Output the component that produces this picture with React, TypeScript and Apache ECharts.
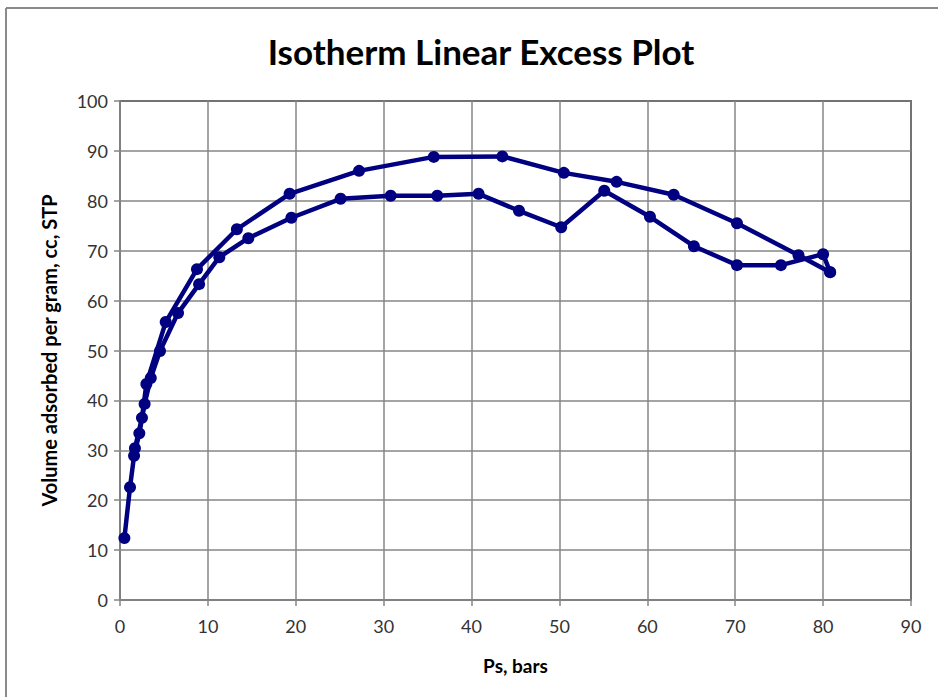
import React, { useEffect, useRef } from "react";
import * as echarts from "echarts";

const titleText = "Isotherm Linear Excess Plot";
const xName = "Ps, bars";
const yName = "Volume adsorbed per gram, cc, STP";

const adsX = [0.5, 1.14, 1.6, 2.2, 2.8, 3.5, 4.55, 6.6, 9.0, 11.3, 14.6, 19.5, 25.1, 30.8, 36.1, 40.8, 45.4, 50.2, 55.1, 60.3, 65.3, 70.2, 75.2, 80.0, 80.8];
const adsY = [12.4, 22.6, 28.9, 33.4, 39.3, 44.5, 49.9, 57.5, 63.3, 68.7, 72.5, 76.6, 80.4, 81.0, 81.0, 81.4, 78.0, 74.7, 82.0, 76.8, 70.9, 67.1, 67.1, 69.3, 65.7];
const desX = [80.8, 77.2, 70.2, 63.0, 56.5, 50.5, 43.5, 35.7, 27.2, 19.3, 13.3, 8.76, 5.2, 3.0, 2.5, 1.7];
const desY = [65.7, 69.1, 75.5, 81.2, 83.8, 85.6, 88.9, 88.8, 86.0, 81.4, 74.3, 66.3, 55.7, 43.3, 36.5, 30.4];

const FONT = "Lato, 'Open Sans', sans-serif";
const LINE = "#000080";
const GRID = "#868686";

export default function App() {
  const ref = useRef<HTMLDivElement>(null);
  useEffect(() => {
    if (!ref.current) return;
    const chart = echarts.init(ref.current, null, { renderer: "svg" });
    const ads = adsX.map((x, i) => [x, adsY[i]]);
    const des = desX.map((x, i) => [x, desY[i]]);
    const seriesStyle = {
      type: "line" as const,
      symbol: "circle",
      symbolSize: 12,
      lineStyle: { color: LINE, width: 4.5 },
      itemStyle: { color: LINE },
      z: 5,
    };
    chart.setOption({
      animation: false,
      backgroundColor: "#fff",
      title: {
        text: titleText,
        left: 476,
        top: 28,
        textAlign: "center",
        textStyle: { fontFamily: FONT, fontSize: 35, fontWeight: "bold", color: "#000" },
      },
      graphic: [
        { type: "line", shape: { x1: 6, y1: 8, x2: 6, y2: 697 }, style: { stroke: "#8a8a8a", lineWidth: 2 } },
        { type: "line", shape: { x1: 6, y1: 8, x2: 938, y2: 8 }, style: { stroke: "#8a8a8a", lineWidth: 2 } },
      ],
      grid: {
        left: 120,
        top: 101,
        right: 27,
        bottom: 97,
        show: true,
        borderColor: "#000",
        borderWidth: 1.5,
        backgroundColor: "#fff",
      },
      xAxis: {
        type: "value",
        min: 0,
        max: 90,
        interval: 10,
        name: xName,
        nameLocation: "middle",
        nameGap: 56,
        nameTextStyle: { fontFamily: FONT, fontSize: 19, fontWeight: "bold", color: "#000" },
        axisLine: { show: true, lineStyle: { color: GRID, width: 1.5 } },
        axisTick: { show: true, length: 6, lineStyle: { color: GRID, width: 1.5 } },
        axisLabel: { fontFamily: FONT, fontSize: 18, color: "#333", margin: 17 },
        splitLine: { show: true, lineStyle: { color: GRID, width: 1.5 } },
      },
      yAxis: {
        type: "value",
        min: 0,
        max: 100,
        interval: 10,
        name: yName,
        nameLocation: "middle",
        nameGap: 61,
        nameTextStyle: { fontFamily: FONT, fontSize: 20, fontWeight: "bold", color: "#000" },
        axisLine: { show: true, lineStyle: { color: GRID, width: 1.5 } },
        axisTick: { show: true, length: 6, lineStyle: { color: GRID, width: 1.5 } },
        axisLabel: { fontFamily: FONT, fontSize: 18, color: "#333", margin: 12 },
        splitLine: { show: true, lineStyle: { color: GRID, width: 1.5 } },
      },
      series: [
        { ...seriesStyle, name: "Adsorption", data: ads },
        { ...seriesStyle, name: "Desorption", data: des },
      ],
    });
    return () => chart.dispose();
  }, []);
  return (
    <div
      ref={ref}
      style={{ position: "fixed", left: 0, top: 0, width: 938, height: 697 }}
    />
  );
}
